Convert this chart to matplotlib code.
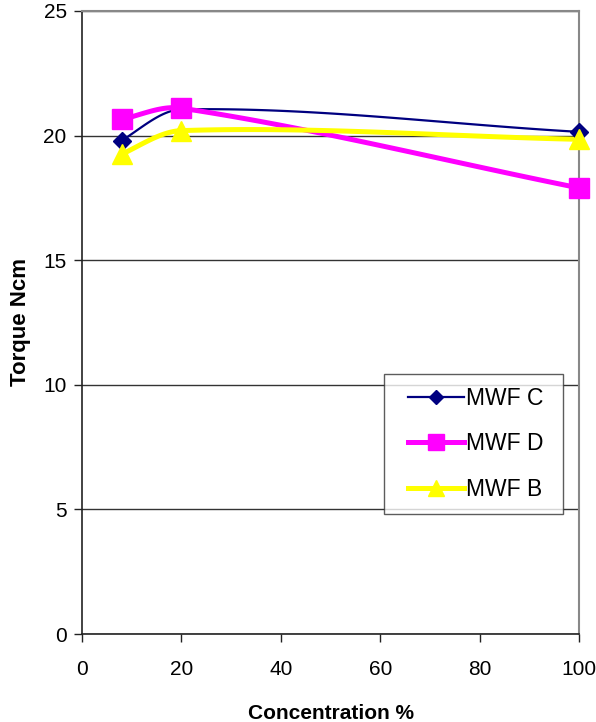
import numpy as np
import matplotlib
matplotlib.use("Agg")
import matplotlib.pyplot as plt
from matplotlib.legend_handler import HandlerLine2D

plt.rcParams['font.family'] = ['Liberation Sans', 'DejaVu Sans']

concentration = [8, 20, 100]
mwf_c = [19.8, 21.05, 20.15]
mwf_d = [20.65, 21.1, 17.9]
mwf_b = [19.25, 20.2, 19.85]
series_names = ["MWF C", "MWF D", "MWF B"]
x_ticks = [0, 20, 40, 60, 80, 100]
y_ticks = [0, 5, 10, 15, 20, 25]


def smooth(xs, ys, n=60):
    x = np.asarray(xs, float)
    y = np.asarray(ys, float)
    m = len(x)
    slopes = np.zeros(m)
    for i in range(m):
        if i == 0:
            slopes[i] = (y[1] - y[0]) / (x[1] - x[0]) * 1.2
        elif i == m - 1:
            slopes[i] = (y[-1] - y[-2]) / (x[-1] - x[-2])
        else:
            slopes[i] = (y[i + 1] - y[i - 1]) / (x[i + 1] - x[i - 1])
    ox, oy = [x[0]], [y[0]]
    for i in range(m - 1):
        h = x[i + 1] - x[i]
        t = np.linspace(0, 1, n)[1:]
        h00 = 2 * t ** 3 - 3 * t ** 2 + 1
        h10 = t ** 3 - 2 * t ** 2 + t
        h01 = -2 * t ** 3 + 3 * t ** 2
        h11 = t ** 3 - t ** 2
        yy = h00 * y[i] + h10 * h * slopes[i] + h01 * y[i + 1] + h11 * h * slopes[i + 1]
        ox.extend(x[i] + t * h)
        oy.extend(yy)
    return np.array(ox), np.array(oy)


fig = plt.figure(figsize=(5.96, 7.22), dpi=100)
ax = fig.add_axes([82 / 596, 88 / 722, 497 / 596, 623 / 722])

styles = [
    dict(color="#000080", lw=1.6, marker="D", ms=9),
    dict(color="#FF00FF", lw=3.6, marker="s", ms=14.5),
    dict(color="#FFFF00", lw=3.6, marker="^", ms=15),
]
handles = []
for ys, name, st in zip([mwf_c, mwf_d, mwf_b], series_names, styles):
    sx, sy = smooth(concentration, ys)
    ax.plot(sx, sy, color=st["color"], lw=st["lw"], solid_capstyle="round", zorder=3)
    ax.plot(concentration, ys, linestyle="none", marker=st["marker"], ms=st["ms"],
            color=st["color"], markeredgecolor=st["color"], zorder=4, clip_on=False)
    h, = ax.plot([], [], color=st["color"], lw=st["lw"], marker=st["marker"],
                 ms=st["ms"] * 0.8, markeredgecolor=st["color"], label=name)
    handles.append(h)

ax.set_xlim(0, 100)
ax.set_ylim(0, 25)
ax.set_xticks(x_ticks)
ax.set_yticks(y_ticks)
ax.tick_params(labelsize=15, direction="out", length=6, width=1, color="#222222")
ax.tick_params(axis="x", pad=13)
ax.tick_params(axis="y", pad=5)
ax.yaxis.grid(True, color="#333333", lw=1)
ax.set_axisbelow(True)
for s in ["top", "right"]:
    ax.spines[s].set_color("#888888")
    ax.spines[s].set_linewidth(1.5)
for s in ["left", "bottom"]:
    ax.spines[s].set_color("#222222")
    ax.spines[s].set_linewidth(1.2)

ax.set_xlabel("Concentration %", fontsize=15, fontweight="bold", labelpad=18)
ax.set_ylabel("Torque Ncm", fontsize=16, fontweight="bold", labelpad=9)

hmap = {h: HandlerLine2D(xpad=0.5) for h in handles}
leg = ax.legend(handles=handles, handler_map=hmap, loc="lower left",
                bbox_to_anchor=(0.6076, 0.1926, 0.3604, 0.228), mode="expand",
                fontsize=16.5, frameon=True, fancybox=False, edgecolor="#333333",
                borderpad=0.55, labelspacing=1.0, handlelength=2.95, handletextpad=0.1,
                borderaxespad=0)
leg.get_frame().set_linewidth(1.0)

fig.savefig("out.png", dpi=100)
